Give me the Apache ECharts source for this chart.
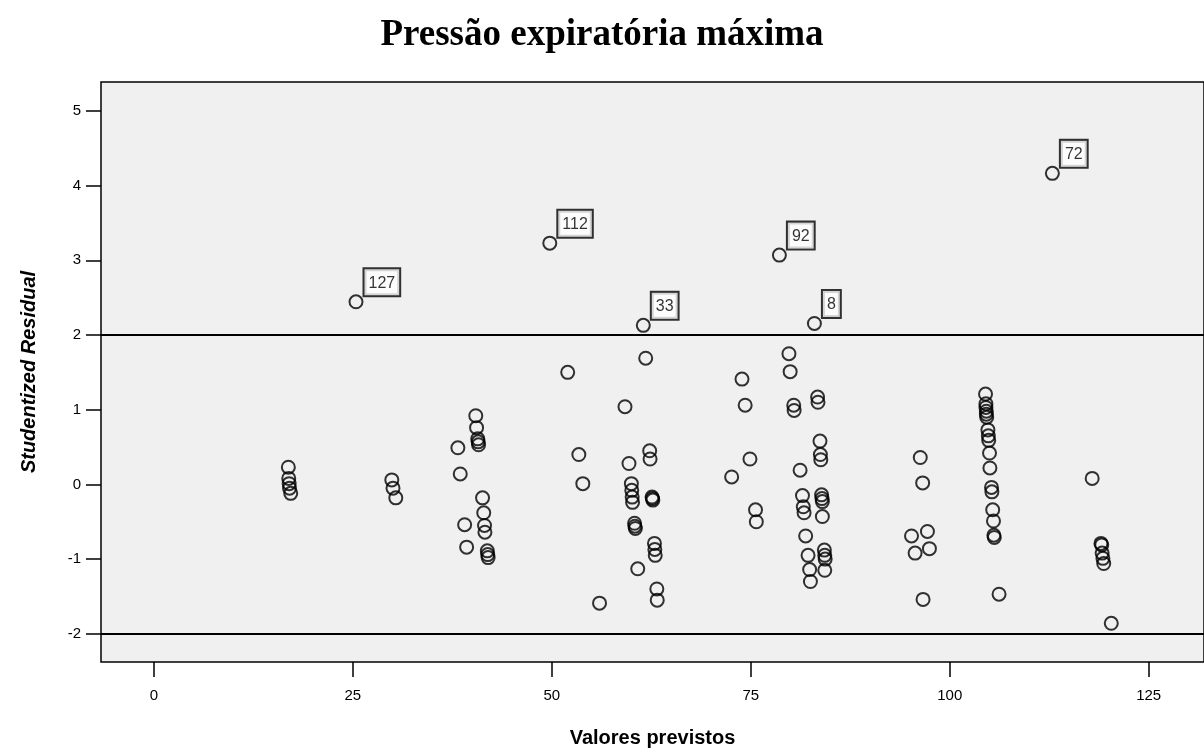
<!DOCTYPE html>
<html>
<head>
<meta charset="utf-8">
<script src="https://cdn.jsdelivr.net/npm/echarts@6/dist/echarts.min.js"></script>
<style>
  html, body { margin: 0; padding: 0; background: #fff; }
  #chart { width: 1204px; height: 753px; }
</style>
</head>
<body>
<div id="chart"></div>
<script>
// valores previstos (x) e resíduos studentizados (y)
const predicted = [
  16.9, 16.95, 17.0, 17.05, 17.2,
  29.9, 30.05, 30.4,
  40.45, 40.55, 40.7, 40.75, 40.8, 38.2, 38.5, 41.3, 41.45, 41.55, 41.6, 39.05, 39.3, 41.9, 41.95, 42.0,
  52.0, 59.2, 61.8, 53.4, 53.9, 59.7, 62.3, 62.35, 60.0, 60.05, 60.1, 60.15, 62.6, 62.65, 62.7,
  60.4, 60.45, 60.5, 62.9, 62.95, 63.0, 60.8, 63.2, 63.25, 56.0,
  73.9, 74.3, 79.95, 79.8, 80.4, 80.45, 83.4, 83.45, 74.9, 72.6, 81.2, 83.7, 83.75, 83.8,
  75.6, 75.7, 81.5, 81.6, 81.7, 83.9, 83.95, 84.0, 84.0, 81.9, 82.2, 84.25, 84.3, 84.35, 84.3, 82.4, 82.5,
  96.3, 96.6, 95.2, 97.2, 95.65, 97.45, 96.65,
  104.5, 104.55, 104.55, 104.6, 104.6, 104.65, 104.8, 104.85, 104.9, 105.0, 105.05, 105.25, 105.3,
  105.4, 105.5, 105.55, 105.6, 106.2,
  117.9, 119.0, 119.1, 119.15, 119.25, 119.35, 120.3
];
const residual = [
  0.23, 0.08, 0.01, -0.05, -0.12,
  0.06, -0.05, -0.18,
  0.92, 0.76, 0.61, 0.57, 0.53, 0.49, 0.14, -0.18, -0.38, -0.55, -0.64, -0.54, -0.84, -0.89, -0.94, -0.98,
  1.50, 1.04, 1.69, 0.40, 0.01, 0.28, 0.45, 0.34, 0.01, -0.08, -0.17, -0.24, -0.17, -0.19, -0.21,
  -0.52, -0.56, -0.59, -0.79, -0.87, -0.95, -1.13, -1.40, -1.55, -1.59,
  1.41, 1.06, 1.51, 1.75, 1.06, 0.99, 1.17, 1.10, 0.34, 0.10, 0.19, 0.58, 0.40, 0.33,
  -0.34, -0.50, -0.15, -0.30, -0.38, -0.14, -0.19, -0.23, -0.43, -0.69, -0.95, -0.88, -0.95, -1.00, -1.15, -1.14, -1.30,
  0.36, 0.02, -0.69, -0.63, -0.92, -0.86, -1.54,
  1.21, 1.08, 1.03, 0.98, 0.94, 0.90, 0.73, 0.65, 0.59, 0.42, 0.22, -0.04, -0.10,
  -0.34, -0.49, -0.68, -0.71, -1.47,
  0.08, -0.79, -0.81, -0.92, -0.99, -1.06, -1.86
];

// casos identificados
const caseIds = ['127', '112', '92', '33', '8', '72'];
const caseX = [25.4, 49.75, 78.6, 61.5, 83.0, 112.9];
const caseY = [2.445, 3.23, 3.07, 2.13, 2.155, 4.165];

const xTicks = [0, 25, 50, 75, 100, 125];
const yTicks = [-2, -1, 0, 1, 2, 3, 4, 5];
const refLines = [2, -2];

const chart = echarts.init(document.getElementById('chart'));

const circle = {
  color: 'rgba(0,0,0,0)',
  borderColor: '#000',
  borderWidth: 2
};

chart.setOption({
  animation: false,
  title: {
    text: 'Pressão expiratória máxima',
    left: 'center',
    top: 12,
    textStyle: {
      fontFamily: '"Liberation Serif", "Times New Roman", serif',
      fontWeight: 'bold',
      fontSize: 37,
      color: '#000'
    }
  },
  grid: {
    left: 101,
    top: 82,
    right: -3,
    bottom: 91,
    show: true,
    backgroundColor: '#f0f0f0',
    borderColor: '#000',
    borderWidth: 1.5
  },
  xAxis: {
    type: 'value',
    min: -6.64,
    max: 131.95,
    name: 'Valores previstos',
    nameLocation: 'middle',
    nameGap: 66,
    nameTextStyle: {
      fontFamily: '"Liberation Sans", Arial, sans-serif',
      fontWeight: 'bold',
      fontSize: 20,
      color: '#000'
    },
    axisLine: { show: false, onZero: false },
    splitLine: { show: false },
    axisTick: {
      show: true,
      length: 15,
      customValues: xTicks,
      lineStyle: { color: '#000', width: 1.5 }
    },
    axisLabel: {
      customValues: xTicks,
      margin: 26,
      fontFamily: '"Liberation Sans", Arial, sans-serif',
      fontSize: 15,
      color: '#000'
    }
  },
  yAxis: {
    type: 'value',
    min: -2.378,
    max: 5.388,
    name: 'Studentized Residual',
    nameLocation: 'middle',
    nameGap: 62,
    nameTextStyle: {
      fontFamily: '"Liberation Sans", Arial, sans-serif',
      fontWeight: 'bold',
      fontStyle: 'italic',
      fontSize: 20,
      color: '#000'
    },
    axisLine: { show: false, onZero: false },
    splitLine: { show: false },
    axisTick: {
      show: true,
      length: 15,
      customValues: yTicks,
      lineStyle: { color: '#000', width: 1.5 }
    },
    axisLabel: {
      customValues: yTicks,
      margin: 20,
      fontFamily: '"Liberation Sans", Arial, sans-serif',
      fontSize: 15,
      color: '#000'
    }
  },
  series: [
    {
      type: 'scatter',
      symbol: 'circle',
      symbolSize: 13,
      itemStyle: circle,
      data: predicted.map((x, i) => [x, residual[i]]),
      markLine: {
        silent: true,
        symbol: 'none',
        label: { show: false },
        lineStyle: { color: '#000', width: 2, type: 'solid' },
        data: refLines.map(v => ({ yAxis: v }))
      }
    },
    {
      type: 'scatter',
      symbol: 'circle',
      symbolSize: 13,
      itemStyle: circle,
      data: caseX.map((x, i) => [x, caseY[i], caseIds[i]]),
      label: {
        show: true,
        position: [16, 1],
        align: 'left',
        verticalAlign: 'bottom',
        formatter: p => p.value[2],
        fontFamily: '"Liberation Sans", Arial, sans-serif',
        fontSize: 16,
        color: '#000',
        backgroundColor: '#fff',
        borderColor: '#000',
        borderWidth: 2,
        padding: [6, 4, 4, 4]
      }
    }
  ]
});
</script>
</body>
</html>
